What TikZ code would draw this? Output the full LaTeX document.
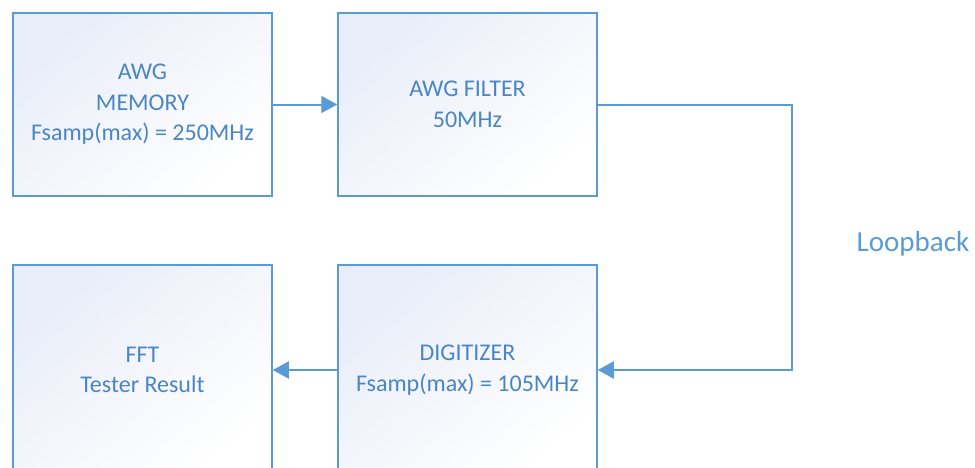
\documentclass[tikz,border=0pt]{standalone}
\usepackage{fontspec}
\setmainfont{Carlito}
\usepackage{tikz}
\usetikzlibrary{arrows.meta,positioning,calc}
\definecolor{lineblue}{HTML}{5B9BD5}
\definecolor{textblue}{HTML}{4A86C4}
\definecolor{boxtop}{HTML}{E8EDF8}
\tikzset{
    block/.style={draw=lineblue, line width=1.5pt, top color=boxtop, bottom color=white,
        shading angle=40, minimum width=259pt, minimum height=183pt,
        text=textblue, align=center, font=\fontsize{24}{30.5}\selectfont},
    flow/.style={draw=lineblue, line width=2pt, -{Triangle[length=16pt,width=17pt]}},
    looplabel/.style={text=lineblue, font=\fontsize{29}{32}\selectfont}
}

\begin{document}
\begin{tikzpicture}[x=1pt,y=-1pt]
    \useasboundingbox[fill=white] (0,0) rectangle (975,467);
    \clip (0,0) rectangle (975,467);

    % 上排
    \node[block] (memory) at (142.5,104.5) {AWG\\MEMORY\\Fsamp(max) = 250MHz};
    \node[block] (filter) at (467.5,104.5) {AWG FILTER\\50MHz};

    % 下排
    \node[block, minimum height=210pt] (fft) at (142.5,370) {FFT\\Tester Result};
    \node[block, minimum height=210pt] (digitizer) at (467.5,370) {DIGITIZER\\Fsamp(max) = 105MHz};

    % 连线
    \draw[flow] (memory.east) -- (filter.west);
    \draw[flow] (filter.east) -- ++(194,0) |- (digitizer.east);
    \draw[flow] (digitizer.west) -- (fft.east);

    \node[looplabel] (loop) at (913,244) {Loopback};
\end{tikzpicture}
\end{document}
